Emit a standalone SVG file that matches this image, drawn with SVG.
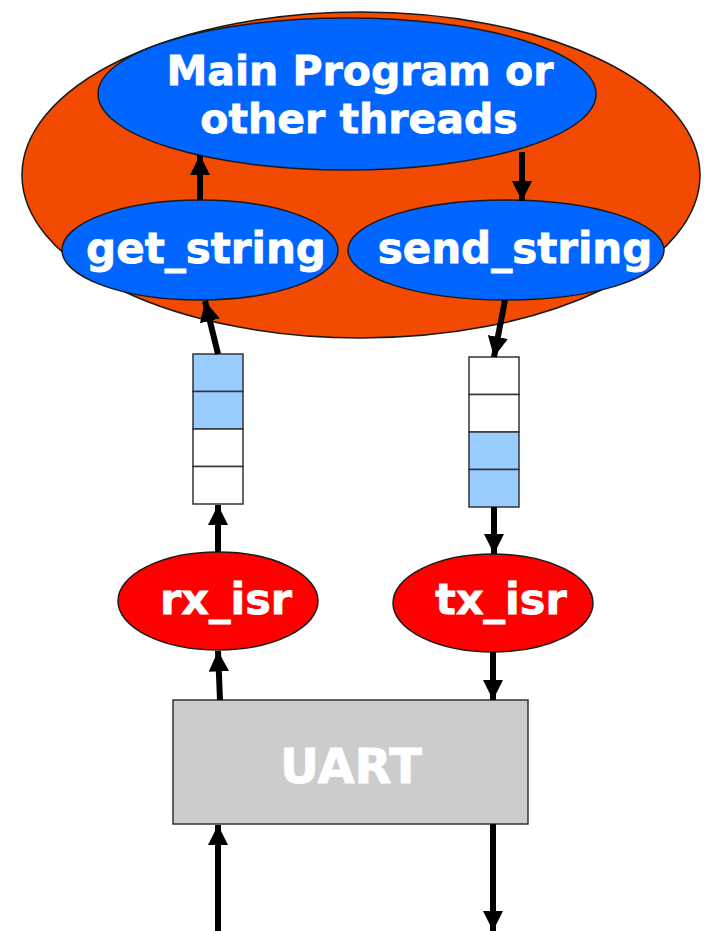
<svg xmlns="http://www.w3.org/2000/svg" width="704" height="931" viewBox="0 0 704 931">
<defs>
<marker id="ah" viewBox="0 0 10 10" refX="10" refY="5" markerWidth="3.4" markerHeight="3.4" markerUnits="strokeWidth" orient="auto">
<path d="M0,0 L10,5 L0,10 z" fill="#000"/>
</marker>
<style>
.t{font-family:"DejaVu Sans",Verdana,sans-serif;font-weight:bold;fill:#fff;stroke:#fff;stroke-width:0.8;text-anchor:middle}
.blue{fill:#0066FF;stroke:#1a1a1a;stroke-width:1.5}
.red{fill:#FF0000;stroke:#1a1a1a;stroke-width:1.5}
.c{stroke:#000;stroke-width:6;fill:none;marker-end:url(#ah)}
.qb{fill:#99CCFF;stroke:#333;stroke-width:1.5}
.qw{fill:#fff;stroke:#333;stroke-width:1.5}
</style>
</defs>
<rect width="704" height="931" fill="#fff"/>
<g id="container"><ellipse cx="361" cy="175" rx="339" ry="163" fill="#F24A00" stroke="#1a1a1a" stroke-width="1.5"/></g>
<g id="main"><ellipse class="blue" cx="347" cy="94" rx="249" ry="76"/>
<text class="t" x="360" y="85" font-size="41">Main Program or</text>
<text class="t" x="359" y="133" font-size="41">other threads</text></g>
<g id="get_string"><ellipse class="blue" cx="200" cy="250" rx="138" ry="50"/>
<text class="t" x="206" y="263" font-size="42">get_string</text></g>
<g id="send_string"><ellipse class="blue" cx="506" cy="250" rx="158" ry="50"/>
<text class="t" x="515" y="263" font-size="42">send_string</text></g>
<g id="rx_queue">
<rect class="qb" x="193" y="354" width="50" height="37.5"/>
<rect class="qb" x="193" y="391.5" width="50" height="37.5"/>
<rect class="qw" x="193" y="429" width="50" height="37.5"/>
<rect class="qw" x="193" y="466.5" width="50" height="37.5"/>
</g>
<g id="tx_queue">
<rect class="qw" x="469" y="357" width="50" height="37.5"/>
<rect class="qw" x="469" y="394.5" width="50" height="37.5"/>
<rect class="qb" x="469" y="432" width="50" height="37.5"/>
<rect class="qb" x="469" y="469.5" width="50" height="37.5"/>
</g>
<g id="rx_isr"><ellipse class="red" cx="218" cy="601" rx="100" ry="49"/>
<text class="t" x="226" y="614" font-size="43">rx_isr</text></g>
<g id="tx_isr"><ellipse class="red" cx="493" cy="603" rx="100" ry="49"/>
<text class="t" x="501" y="614" font-size="43">tx_isr</text></g>
<g id="uart"><rect x="173" y="700" width="355" height="124" fill="#CCCCCC" stroke="#333" stroke-width="1.5"/>
<text class="t" x="351" y="783" font-size="48">UART</text></g>
<g id="connectors">
<line class="c" x1="200" y1="200" x2="200" y2="155"/>
<line class="c" x1="522" y1="152" x2="522" y2="201"/>
<line class="c" x1="218" y1="354" x2="205" y2="301"/>
<line class="c" x1="505" y1="300" x2="494" y2="357"/>
<line class="c" x1="218" y1="552" x2="218" y2="505"/>
<line class="c" x1="494" y1="507" x2="494" y2="554"/>
<line class="c" x1="220" y1="700" x2="218" y2="651"/>
<line class="c" x1="493" y1="652" x2="493" y2="700"/>
<line class="c" x1="218" y1="931" x2="218" y2="825"/>
<line class="c" x1="493" y1="824" x2="493" y2="931"/>
</g>
</svg>
